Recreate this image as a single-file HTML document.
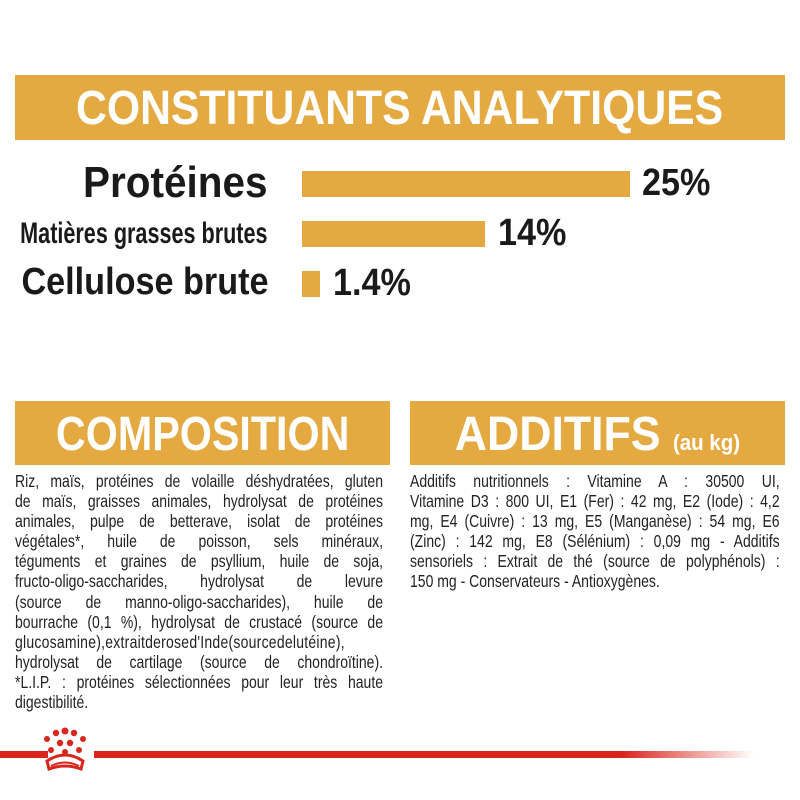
<!DOCTYPE html>
<html><head><meta charset="utf-8"><style>
body{margin:0;width:800px;height:800px;background:#fff;position:relative;overflow:hidden;font-family:"Liberation Sans",sans-serif;color:#1a1a1a}
.ban{position:absolute;background:#E5A942;color:#fff;font-weight:bold;text-align:center;overflow:hidden}
.ban span.t{display:inline-block}
.lab{position:absolute;right:532px;font-weight:bold;white-space:nowrap;text-align:right;transform-origin:right center}
.bar{position:absolute;left:302px;background:#E5A942}
.val{position:absolute;font-weight:bold;font-size:38px;white-space:nowrap;transform-origin:left center;transform:scaleX(0.9)}
.col{position:absolute;font-size:17.5px;line-height:20.1px;color:#222;transform-origin:left top;transform:scaleX(0.8)}
.col div{text-align:justify;text-align-last:justify;white-space:nowrap;height:20.1px}
.col div.l{text-align-last:left}
</style></head><body>
<div class="ban" style="left:15px;top:75px;width:770px;height:65px;font-size:48px;line-height:68px"><span class="t" style="transform:scaleX(0.89)">CONSTITUANTS ANALYTIQUES</span></div>
<div class="lab" style="top:160px;font-size:44px;line-height:46px;transform:scaleX(0.92)">Protéines</div>
<div class="lab" style="top:216px;font-size:30px;line-height:36px;transform:scaleX(0.72)">Matières grasses brutes</div>
<div class="lab" style="top:262px;font-size:38px;line-height:40px;transform:scaleX(0.9)">Cellulose brute</div>
<div class="bar" style="top:171px;width:328px;height:26px"></div>
<div class="bar" style="top:221px;width:183px;height:26px"></div>
<div class="bar" style="top:271px;width:18px;height:26px"></div>
<div class="val" style="left:642px;top:162px">25%</div>
<div class="val" style="left:498px;top:212px">14%</div>
<div class="val" style="left:333px;top:262px">1.4%</div>
<div class="ban" style="left:15px;top:401px;width:375px;height:64px;font-size:48px;line-height:68px"><span class="t" style="transform:scaleX(0.86)">COMPOSITION</span></div>
<div class="ban" style="left:410px;top:401px;width:375px;height:64px;font-size:48px;line-height:68px"><span class="t" style="transform:scaleX(0.93)">ADDITIFS <span style="font-size:22px">(au kg)</span></span></div>
<div class="col" style="left:15px;top:471px;width:460px">
<div>Riz, maïs, protéines de volaille déshydratées, gluten</div>
<div>de maïs, graisses animales, hydrolysat de protéines</div>
<div>animales, pulpe de betterave, isolat de protéines</div>
<div>végétales*, huile de poisson, sels minéraux,</div>
<div>téguments et graines de psyllium, huile de soja,</div>
<div>fructo-oligo-saccharides, hydrolysat de levure</div>
<div>(source de manno-oligo-saccharides), huile de</div>
<div>bourrache (0,1 %), hydrolysat de crustacé (source de</div>
<div style="letter-spacing:0.3px">glucosamine),extraitderosed'Inde(sourcedelutéine),</div>
<div>hydrolysat de cartilage (source de chondroïtine).</div>
<div>*L.I.P. : protéines sélectionnées pour leur très haute</div>
<div class="l">digestibilité.</div>
</div>
<div class="col" style="left:410px;top:471px;width:462px">
<div>Additifs nutritionnels : Vitamine A : 30500 UI,</div>
<div>Vitamine D3 : 800 UI, E1 (Fer) : 42 mg, E2 (Iode) : 4,2</div>
<div>mg, E4 (Cuivre) : 13 mg, E5 (Manganèse) : 54 mg, E6</div>
<div>(Zinc) : 142 mg, E8 (Sélénium) : 0,09 mg - Additifs</div>
<div>sensoriels : Extrait de thé (source de polyphénols) :</div>
<div class="l">150 mg - Conservateurs - Antioxygènes.</div>
</div>
<div style="position:absolute;left:0;top:751px;width:48px;height:7px;background:#D9251C"></div>
<div style="position:absolute;left:94px;top:751px;width:660px;height:7px;background:linear-gradient(to right,#D9251C 80%,rgba(217,37,28,0))"></div>
<svg style="position:absolute;left:35px;top:725px" width="60" height="55" viewBox="0 0 60 55">
<g fill="#D9251C">
<circle cx="30" cy="6" r="3.5"/><circle cx="21" cy="8" r="3.2"/><circle cx="39" cy="8" r="3.2"/>
<circle cx="12" cy="14" r="3"/><circle cx="48" cy="14" r="3"/>
<circle cx="25" cy="18" r="3.2"/><circle cx="35" cy="18" r="3.2"/>
<circle cx="16" cy="25" r="3"/><circle cx="44" cy="25" r="3"/><circle cx="30" cy="27" r="3"/>
</g>
<path d="M12 36 Q30 24 48 36 L46 44 Q30 38 14 44 Z" fill="none" stroke="#D9251C" stroke-width="3"/>
<path d="M16 41 Q30 34 44 41" fill="none" stroke="#D9251C" stroke-width="2"/>
</svg>
</body></html>
